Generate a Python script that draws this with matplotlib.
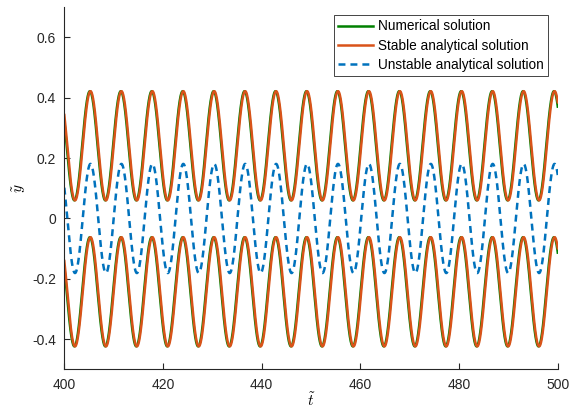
import numpy as np
import matplotlib
matplotlib.use('Agg')
from matplotlib import pyplot as plt

# values
t_start, t_end = 400, 500
period = 6.27          # oscillation period
t_peak = 405.3         # first maximum
amp = 0.181            # amplitude of all three curves
centre_up = 0.241      # mean of the upper stable branch
centre_lo = -0.243     # mean of the lower stable branch
num_shift = -0.12      # numerical solution runs slightly ahead

xticks = [400, 420, 440, 460, 480, 500]
yticks = [-0.4, -0.2, 0, 0.2, 0.4, 0.6]
ytick_labels = ['-0.4', '-0.2', '0', '0.2', '0.4', '0.6']
labels = ['Numerical solution', 'Stable analytical solution', 'Unstable analytical solution']

plt.rcParams['font.family'] = ['Liberation Sans', 'DejaVu Sans']
plt.rcParams['mathtext.fontset'] = 'cm'
plt.rcParams['lines.scale_dashes'] = False

t = np.linspace(t_start, t_end, 4000)
w = 2 * np.pi / period
osc = amp * np.cos(w * (t - t_peak))
osc_num = amp * np.cos(w * (t - t_peak - num_shift))

fig = plt.figure(figsize=(5.8, 4.13), dpi=100)
ax = fig.add_axes([0.1109, 0.1058, 0.8508, 0.8765])

green = '#008000'
orange = '#D95319'
blue = '#0072BD'

l1, = ax.plot(t, centre_up + osc_num, color=green, lw=1.8)
ax.plot(t, centre_lo + osc_num, color=green, lw=1.8)
l2, = ax.plot(t, centre_up + osc, color=orange, lw=1.8)
ax.plot(t, centre_lo + osc, color=orange, lw=1.8)
l3, = ax.plot(t, osc, color=blue, lw=1.8, dashes=[5, 3.6])

ax.set_xlim(t_start, t_end)
ax.set_ylim(-0.5, 0.7)
ax.set_xticks(xticks)
ax.set_yticks(yticks)
ax.set_yticklabels(ytick_labels)
ax.tick_params(direction='in', length=4, width=0.8, labelsize=10, color='#262626', labelcolor='#262626', pad=6)
for s in ['top', 'right']:
    ax.spines[s].set_visible(False)
for s in ['left', 'bottom']:
    ax.spines[s].set_color('#262626')
    ax.spines[s].set_linewidth(0.8)

ax.set_xlabel(r'$\tilde{t}$', fontsize=11, labelpad=0)
ax.set_ylabel(r'$\tilde{y}$', fontsize=11, labelpad=3)

leg = ax.legend([l1, l2, l3], labels, loc='upper right', bbox_to_anchor=(0.98, 0.978),
                fontsize=9.8, frameon=True, fancybox=False, framealpha=1, edgecolor='#262626',
                handlelength=2.6, handletextpad=0.35, labelspacing=0.4, borderpad=0.3,
                borderaxespad=0)
leg.get_frame().set_linewidth(0.6)

fig.savefig('out.png', dpi=100)
